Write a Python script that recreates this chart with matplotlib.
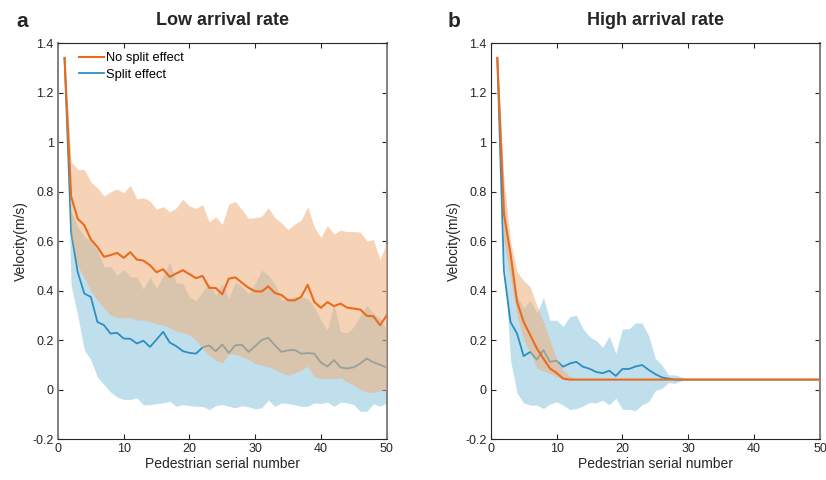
import numpy as np
import matplotlib
matplotlib.use("Agg")
from matplotlib import pyplot as plt
from matplotlib.ticker import FuncFormatter

plt.rcParams['font.family'] = ['Liberation Sans', 'DejaVu Sans']
plt.rcParams['axes.unicode_minus'] = False

# pedestrian serial number
ped = np.arange(1, 51)

# ---- panel a: low arrival rate ----
low_nosplit = [1.34, 0.78, 0.69, 0.664, 0.606, 0.576, 0.536, 0.543, 0.552, 0.532,
               0.555, 0.525, 0.521, 0.502, 0.474, 0.486, 0.455, 0.469, 0.482, 0.466,
               0.45, 0.459, 0.411, 0.41, 0.385, 0.448, 0.453, 0.431, 0.411, 0.397,
               0.396, 0.417, 0.39, 0.382, 0.361, 0.36, 0.374, 0.423, 0.354, 0.33,
               0.353, 0.337, 0.347, 0.331, 0.327, 0.323, 0.298, 0.296, 0.26, 0.298]
low_nosplit_hi = [1.34, 0.92, 0.889, 0.889, 0.839, 0.815, 0.782, 0.799, 0.81, 0.795,
                  0.826, 0.77, 0.775, 0.761, 0.728, 0.739, 0.718, 0.734, 0.77, 0.741,
                  0.732, 0.747, 0.678, 0.698, 0.667, 0.749, 0.76, 0.726, 0.691, 0.694,
                  0.7, 0.735, 0.694, 0.673, 0.646, 0.668, 0.684, 0.738, 0.657, 0.614,
                  0.663, 0.628, 0.644, 0.638, 0.638, 0.636, 0.6, 0.606, 0.525, 0.593]
low_nosplit_lo = [1.34, 0.62, 0.5, 0.45, 0.4, 0.36, 0.33, 0.3, 0.29, 0.29,
                  0.29, 0.28, 0.28, 0.275, 0.265, 0.26, 0.25, 0.235, 0.23, 0.22,
                  0.2, 0.166, 0.139, 0.119, 0.108, 0.143, 0.143, 0.132, 0.121, 0.105,
                  0.098, 0.092, 0.081, 0.067, 0.058, 0.067, 0.078, 0.094, 0.051, 0.044,
                  0.044, 0.044, 0.047, 0.031, 0.018, 0.0, -0.009, -0.013, -0.005, -0.003]
low_split = [1.34, 0.637, 0.475, 0.388, 0.374, 0.273, 0.26, 0.226, 0.229, 0.206,
             0.205, 0.186, 0.197, 0.172, 0.202, 0.233, 0.19, 0.175, 0.155, 0.148,
             0.145, 0.17, 0.178, 0.155, 0.182, 0.148, 0.179, 0.18, 0.152, 0.175,
             0.2, 0.209, 0.179, 0.152, 0.158, 0.16, 0.145, 0.147, 0.145, 0.109,
             0.093, 0.119, 0.089, 0.085, 0.09, 0.105, 0.125, 0.11, 0.1, 0.089]
low_split_hi = [1.34, 0.72, 0.657, 0.62, 0.597, 0.563, 0.496, 0.496, 0.462, 0.485,
                0.455, 0.455, 0.404, 0.455, 0.408, 0.458, 0.516, 0.431, 0.428, 0.374,
                0.358, 0.395, 0.428, 0.381, 0.428, 0.368, 0.435, 0.415, 0.388, 0.428,
                0.482, 0.462, 0.428, 0.361, 0.364, 0.377, 0.374, 0.368, 0.334, 0.28,
                0.24, 0.347, 0.233, 0.229, 0.253, 0.3, 0.341, 0.307, 0.287, 0.24]
low_split_lo = [1.34, 0.42, 0.3, 0.16, 0.12, 0.05, 0.02, -0.01, -0.03, -0.04,
                -0.04, -0.034, -0.062, -0.061, -0.057, -0.054, -0.047, -0.068, -0.061, -0.065,
                -0.068, -0.068, -0.081, -0.065, -0.061, -0.068, -0.074, -0.065, -0.07, -0.078,
                -0.074, -0.043, -0.068, -0.054, -0.057, -0.061, -0.068, -0.068, -0.054, -0.057,
                -0.051, -0.068, -0.051, -0.054, -0.061, -0.088, -0.088, -0.057, -0.068, -0.054]

# ---- panel b: high arrival rate ----
high_nosplit = [1.34, 0.71, 0.55, 0.354, 0.273, 0.22, 0.166, 0.125, 0.085, 0.067,
                0.044] + [0.04] * 39
high_nosplit_hi = [1.34, 0.85, 0.6, 0.475, 0.44, 0.415, 0.34, 0.273, 0.2, 0.125,
                   0.078, 0.054, 0.044] + [0.04] * 37
high_nosplit_lo = [1.34, 0.6, 0.45, 0.3, 0.2, 0.15, 0.085, 0.075, 0.065, 0.051,
                   0.044] + [0.04] * 39
high_split = [1.34, 0.48, 0.273, 0.226, 0.135, 0.152, 0.121, 0.159, 0.112, 0.116,
              0.092, 0.105, 0.112, 0.092, 0.084, 0.071, 0.066, 0.076, 0.055, 0.083,
              0.083, 0.093, 0.099, 0.079, 0.062, 0.049, 0.044, 0.04] + [0.04] * 22
high_split_hi = [1.34, 0.8, 0.5, 0.38, 0.33, 0.36, 0.31, 0.37, 0.28, 0.28,
                 0.255, 0.294, 0.3, 0.246, 0.213, 0.198, 0.17, 0.216, 0.146, 0.245,
                 0.245, 0.27, 0.268, 0.216, 0.126, 0.099, 0.059, 0.059, 0.05] + [0.04] * 21
high_split_lo = [1.34, 0.55, 0.12, -0.015, -0.054, -0.063, -0.063, -0.077, -0.059, -0.05,
                 -0.063, -0.081, -0.077, -0.067, -0.052, -0.054, -0.043, -0.062, -0.035, -0.08,
                 -0.08, -0.085, -0.062, -0.049, -0.004, 0.005, 0.028, 0.025, 0.036] + [0.04] * 21

orange = '#EA6B1C'
blue = '#2E8EC0'
orange_fill = '#EFAF7C'
blue_fill = '#BFDFEC'
dark = '#262626'

fig = plt.figure(figsize=(8.26, 4.8), dpi=100)
ax_a = fig.add_axes([0.0702, 0.0854, 0.3978, 0.825])
ax_b = fig.add_axes([0.5941, 0.0854, 0.3986, 0.825])

panels = [
    (ax_a, 'Low arrival rate', low_nosplit, low_nosplit_lo, low_nosplit_hi,
     low_split, low_split_lo, low_split_hi),
    (ax_b, 'High arrival rate', high_nosplit, high_nosplit_lo, high_nosplit_hi,
     high_split, high_split_lo, high_split_hi),
]

for ax, title, ns, ns_lo, ns_hi, sp, sp_lo, sp_hi in panels:
    ax.fill_between(ped, sp_lo, sp_hi, color=blue_fill, lw=0, zorder=1)
    ax.plot(ped, sp, color=blue, lw=1.3, zorder=2, label='Split effect')
    ax.fill_between(ped, ns_lo, ns_hi, color=orange_fill, alpha=0.55, lw=0, zorder=3)
    ax.plot(ped, ns, color=orange, lw=1.5, zorder=4, label='No split effect')

    ax.set_xlim(0, 50)
    ax.set_ylim(-0.2, 1.4)
    ax.set_xticks(np.arange(0, 51, 10))
    ax.set_yticks(np.arange(-0.2, 1.41, 0.2))
    ax.yaxis.set_major_formatter(FuncFormatter(lambda v, p: f"{round(v, 2):g}"))
    ax.tick_params(direction='in', length=3.5, width=0.8, top=True, right=True,
                   labelsize=9, colors=dark, pad=3)
    for s in ax.spines.values():
        s.set_color(dark)
        s.set_linewidth(0.8)
    ax.set_xlabel('Pedestrian serial number', fontsize=10, color=dark, labelpad=1)
    ax.set_ylabel('Velocity(m/s)', fontsize=10, color=dark, labelpad=3)
    ax.set_title(title, fontsize=13, fontweight='bold', color=dark, pad=13)

ax_a.spines['left'].set_color('#808080')
ax_a.spines['left'].set_linewidth(1.4)
ax_a.spines['right'].set_color('#808080')
ax_a.spines['right'].set_linewidth(1.4)
ax_b.spines['right'].set_color('#808080')
ax_b.spines['right'].set_linewidth(1.4)

fig.text(0.02, 0.956, 'a', fontsize=15, fontweight='bold', color=dark, va='center')
fig.text(0.542, 0.956, 'b', fontsize=15, fontweight='bold', color=dark, va='center')

handles, labels = ax_a.get_legend_handles_labels()
ax_a.legend(handles[::-1], labels[::-1], loc='upper left', frameon=False,
            fontsize=9.3, handlelength=1.95, handletextpad=0.15, labelspacing=0.35,
            borderaxespad=0.3, bbox_to_anchor=(0.037, 1.0))

plt.savefig('out.png', dpi=100)
print("Saved to out.png")
